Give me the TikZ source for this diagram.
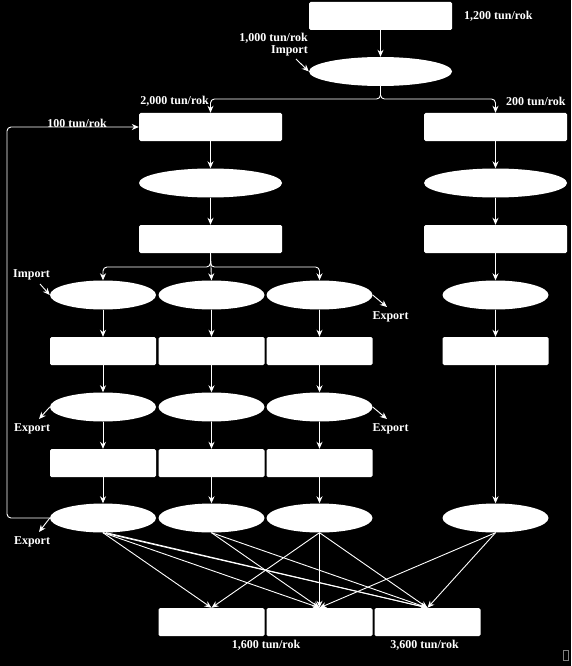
\documentclass[tikz,border=0pt]{standalone}
\usepackage{fontspec}
\setmainfont{Liberation Serif}
\usetikzlibrary{shapes.geometric, arrows.meta}

\begin{document}
\begin{tikzpicture}[x=1pt, y=-1pt,
    box/.style={rectangle, fill=white, rounded corners=1.5pt, minimum height=28pt, inner sep=0pt},
    oval/.style={ellipse, fill=white, minimum height=29pt, inner sep=0pt},
    wide/.style={minimum width=143pt},
    narrow/.style={minimum width=106pt},
    lbl/.style={text=white, font=\bfseries\fontsize{12}{14}\selectfont, inner sep=0pt},
    flow/.style={-{Stealth[length=7pt, width=6pt]}, white, line width=0.9pt}]
        % Tlo
        \fill[black] (0,0) rectangle (571,666);
        \useasboundingbox (0,0) rectangle (571,666);

        % Gora
        \node[box, wide] (src) at (380.5,16) {};
        \node[oval, wide] (mix) at (380.5,71.5) {};
        \node[box, wide] (l1) at (210.5,127) {};
        \node[oval, wide] (l2) at (210.5,183) {};
        \node[box, wide] (l3) at (210.5,239) {};
        \node[box, wide] (r1) at (495.5,127) {};
        \node[oval, wide] (r2) at (495.5,183) {};
        \node[box, wide] (r3) at (495.5,239) {};

        % Trzy linie
        \node[oval, narrow] (a1) at (103,295) {};
        \node[box, narrow] (a2) at (103,351) {};
        \node[oval, narrow] (a3) at (103,407) {};
        \node[box, narrow] (a4) at (103,463) {};
        \node[oval, narrow] (a5) at (103,518) {};
        \node[oval, narrow] (b1) at (211.5,295) {};
        \node[box, narrow] (b2) at (211.5,351) {};
        \node[oval, narrow] (b3) at (211.5,407) {};
        \node[box, narrow] (b4) at (211.5,463) {};
        \node[oval, narrow] (b5) at (211.5,518) {};
        \node[oval, narrow] (c1) at (319.5,295) {};
        \node[box, narrow] (c2) at (319.5,351) {};
        \node[oval, narrow] (c3) at (319.5,407) {};
        \node[box, narrow] (c4) at (319.5,463) {};
        \node[oval, narrow] (c5) at (319.5,518) {};
        \node[oval, narrow] (r4) at (495.5,295) {};
        \node[box, narrow] (r5) at (495.5,351) {};
        \node[oval, narrow] (r8) at (495.5,518) {};

        % Odbiorcy
        \node[box, narrow] (o1) at (211.5,622) {};
        \node[box, narrow] (o2) at (319.5,622) {};
        \node[box, narrow] (o3) at (427.5,622) {};

        % Przeplywy
        \coordinate (j1) at (380.5,99);
        \coordinate (j2) at (210.5,267);
        \coordinate (k1) at (7,300);
        \draw[flow] (src.south) -- (mix.north);
        \draw[flow, rounded corners=4pt] (mix.south) -- (j1) -| (l1.north);
        \draw[flow, rounded corners=4pt] (mix.south) -- (j1) -| (r1.north);
        \draw[flow] (l1.south) -- (l2.north);
        \draw[flow] (l2.south) -- (l3.north);
        \draw[flow] (r1.south) -- (r2.north);
        \draw[flow] (r2.south) -- (r3.north);
        \draw[flow] (r3.south) -- (r4.north);
        \draw[flow] (r4.south) -- (r5.north);
        \draw[flow] (r5.south) -- (r8.north);
        \draw[flow, rounded corners=4pt] (l3.south) -- (j2) -| (a1.north);
        \draw[flow, rounded corners=4pt] (l3.south) -- (j2) -| (c1.north);
        \draw[flow] (l3.south) -- (b1.north);
        \draw[flow] (a1.south) -- (a2.north);
        \draw[flow] (a2.south) -- (a3.north);
        \draw[flow] (a3.south) -- (a4.north);
        \draw[flow] (a4.south) -- (a5.north);
        \draw[flow] (b1.south) -- (b2.north);
        \draw[flow] (b2.south) -- (b3.north);
        \draw[flow] (b3.south) -- (b4.north);
        \draw[flow] (b4.south) -- (b5.north);
        \draw[flow] (c1.south) -- (c2.north);
        \draw[flow] (c2.south) -- (c3.north);
        \draw[flow] (c3.south) -- (c4.north);
        \draw[flow] (c4.south) -- (c5.north);
        \draw[flow, rounded corners=4pt] (a5.west) -| (k1) |- (l1.west);

        % Do odbiorcow
        \draw[flow] (a5.south) -- (o1.north);
        \draw[flow] (a5.south) -- (o2.north);
        \draw[flow] (a5.south) -- (o3.north);
        \draw[flow] (a5.-78) -- (o3.north);
        \draw[flow] (b5.south) -- (o2.north);
        \draw[flow] (b5.south) -- (o3.north);
        \draw[flow] (c5.south) -- (o1.north);
        \draw[flow] (c5.south) -- (o2.north);
        \draw[flow] (c5.south) -- (o3.north);
        \draw[flow] (r8.south) -- (o2.north);
        \draw[flow] (r8.south) -- (o3.north);

        % Import / Export
        \coordinate (i1) at (296,59);
        \coordinate (i2) at (40,284);
        \coordinate (e1) at (387,307);
        \coordinate (e2) at (39,419);
        \coordinate (e3) at (387,419);
        \coordinate (e4) at (39,532);
        \draw[flow] (i1) -- (mix.west);
        \draw[flow] (i2) -- (a1.west);
        \draw[flow] (c1.east) -- (e1);
        \draw[flow] (a3.west) -- (e2);
        \draw[flow] (c3.east) -- (e3);
        \draw[flow] (a5.west) -- (e4);

        % Opisy
        \node[lbl, anchor=west] (t1200) at (464,16) {1,200 tun/rok};
        \node[lbl, anchor=east] (t1000) at (308,38) {1,000 tun/rok};
        \node[lbl, anchor=east] (imp1) at (308,51) {Import};
        \node[lbl, anchor=east] (t2000) at (209,101) {2,000 tun/rok};
        \node[lbl, anchor=west] (t200) at (506,101) {200 tun/rok};
        \node[lbl] (t100) at (77,123) {100 tun/rok};
        \node[lbl] (imp2) at (31.5,275) {Import};
        \node[lbl] (exp1) at (390.5,317) {Export};
        \node[lbl] (exp2) at (32,429) {Export};
        \node[lbl] (exp3) at (390.5,429) {Export};
        \node[lbl] (exp4) at (32,542) {Export};
        \node[lbl] (t1600) at (266,645) {1,600 tun/rok};
        \node[lbl] (t3600) at (424.5,645) {3,600 tun/rok};

        \draw[gray, line width=0.5pt] (563,650) rectangle (568,660);
\end{tikzpicture}
\end{document}
